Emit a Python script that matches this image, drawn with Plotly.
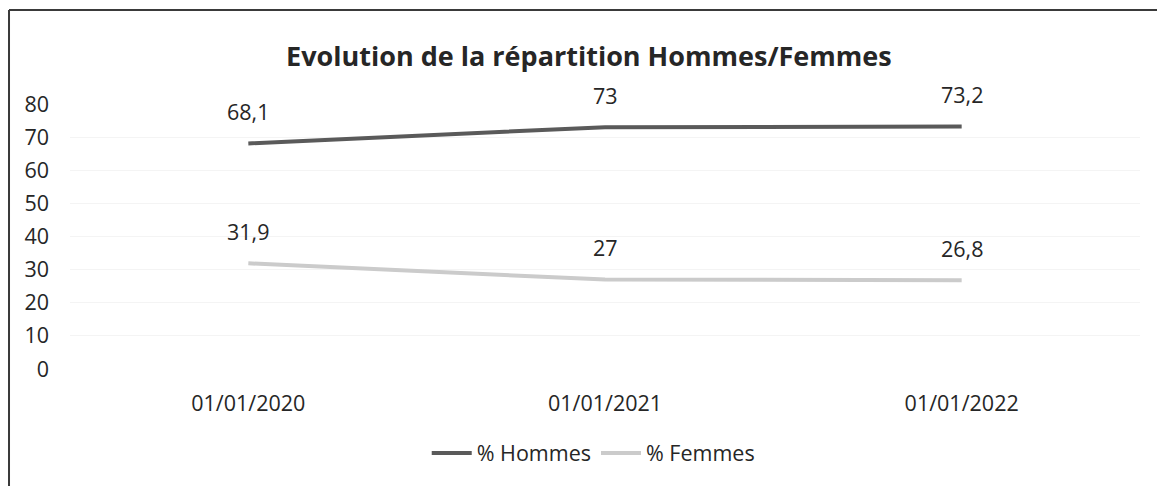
import plotly.graph_objects as go

dates = ["01/01/2020", "01/01/2021", "01/01/2022"]
hommes = [68.1, 73, 73.2]
femmes = [31.9, 27, 26.8]
hommes_labels = ["68,1", "73", "73,2"]
femmes_labels = ["31,9", "27", "26,8"]
y_ticks = [0, 10, 20, 30, 40, 50, 60, 70, 80]

FONT = "Open Sans"
TXT = "#262626"
FS = 21.5

fig = go.Figure()
fig.add_trace(go.Scatter(x=dates, y=hommes, mode="lines", name="% Hommes",
                         line=dict(color="#5a5a5a", width=4), hoverinfo="skip"))
fig.add_trace(go.Scatter(x=dates, y=femmes, mode="lines", name="% Femmes",
                         line=dict(color="#cbcbcb", width=4), hoverinfo="skip"))

for xs, ys, labs in [(dates, hommes, hommes_labels), (dates, femmes, femmes_labels)]:
    for x, y, t in zip(xs, ys, labs):
        fig.add_annotation(x=x, y=y, text=t, showarrow=False, yshift=32,
                           font=dict(family=FONT, size=FS, color=TXT))

# chart border (scanned frame)
fig.add_shape(type="line", xref="paper", yref="paper", x0=-0.057, x1=1.03,
              y0=1.3547, y1=1.3547, line=dict(color="#3a3a3a", width=2))
fig.add_shape(type="line", xref="paper", yref="paper", x0=-0.057, x1=-0.057,
              y0=1.3547, y1=-0.5, line=dict(color="#3a3a3a", width=2))

fig.update_layout(
    width=1157, height=486,
    margin=dict(l=70, r=17, t=104, b=117),
    paper_bgcolor="white", plot_bgcolor="white",
    font=dict(family=FONT, color=TXT),
    title=dict(text="<b>Evolution de la répartition Hommes/Femmes</b>",
               xref="container", x=0.509, xanchor="center",
               yref="container", y=0.883, yanchor="middle",
               font=dict(family=FONT, size=27, color=TXT)),
    showlegend=True,
    legend=dict(orientation="h", x=0.489, xanchor="center", y=-0.317, yanchor="middle",
                font=dict(family=FONT, size=FS, color=TXT), itemwidth=40,
                bgcolor="rgba(0,0,0,0)"),
    xaxis=dict(type="category", range=[-0.5, 2.5], showgrid=False, zeroline=False,
               showline=False, ticks="", ticklabelstandoff=19,
               tickfont=dict(family=FONT, size=FS, color=TXT), fixedrange=True),
    yaxis=dict(range=[0, 80], tickvals=y_ticks, showgrid=True, gridcolor="#f4f4f4",
               gridwidth=1, zeroline=False, showline=False, ticks="",
               ticklabelstandoff=20,
               tickfont=dict(family=FONT, size=FS, color=TXT), fixedrange=True),
)

fig.write_html("out.html", config={"displayModeBar": False},
               post_script="document.body.style.margin='0';document.body.style.overflow='hidden';")
